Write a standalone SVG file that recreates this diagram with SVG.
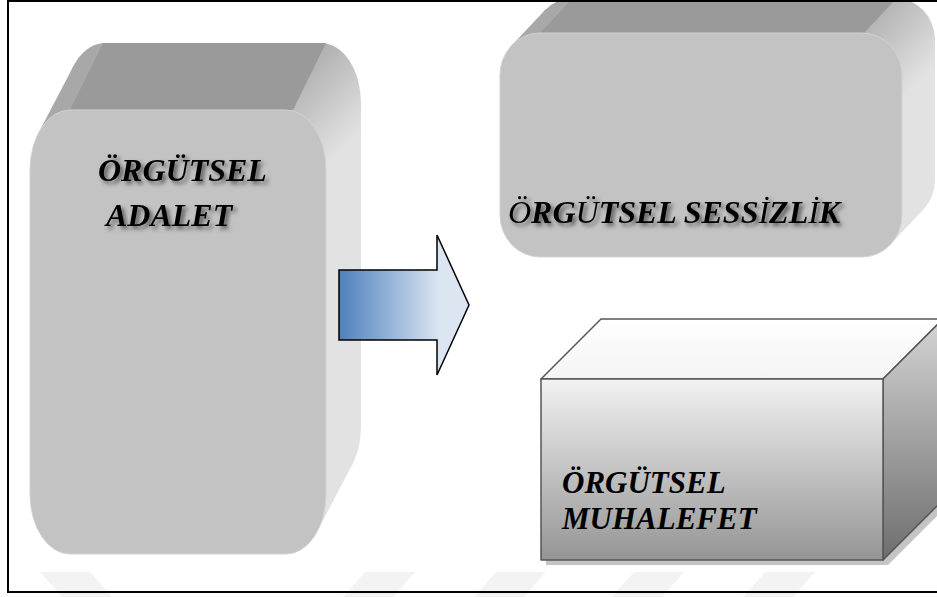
<svg xmlns="http://www.w3.org/2000/svg" width="937" height="597" viewBox="0 0 937 597">
  <style>
    .lbl { font-family: "Liberation Serif", "Times New Roman", serif; font-weight: bold; font-style: italic; font-size: 31px; fill: #000; }
    .big { font-size: 32px; }
    .thin { font-weight: normal; }
    .front { fill: #c3c3c3; stroke: #d2d2d2; stroke-width: 1; }
    .top { fill: #9a9a9a; }
    .wm { fill: #f3f3f3; }
    .edge { stroke: #555; stroke-width: 1.5; stroke-linejoin: round; }
  </style>
  <defs>
    <filter id="tshadow" x="-10%" y="-30%" width="130%" height="180%">
      <feDropShadow dx="3" dy="3" stdDeviation="2" flood-color="#000" flood-opacity="0.55"/>
    </filter>
    <linearGradient id="hullA" gradientUnits="userSpaceOnUse" x1="290" y1="60" x2="362" y2="130">
      <stop offset="0" stop-color="#a8a8a8"/>
      <stop offset="1" stop-color="#e2e2e2"/>
    </linearGradient>
    <linearGradient id="hullB" gradientUnits="userSpaceOnUse" x1="860" y1="5" x2="930" y2="70">
      <stop offset="0" stop-color="#a8a8a8"/>
      <stop offset="1" stop-color="#e2e2e2"/>
    </linearGradient>
    <linearGradient id="cubeFront" x1="0" y1="0" x2="0" y2="1">
      <stop offset="0" stop-color="#f2f2f2"/>
      <stop offset="1" stop-color="#959595"/>
    </linearGradient>
    <linearGradient id="cubeSide" x1="0" y1="0" x2="0" y2="1">
      <stop offset="0" stop-color="#d4d4d4"/>
      <stop offset="1" stop-color="#6e6e6e"/>
    </linearGradient>
    <linearGradient id="cubeTop" x1="0" y1="0" x2="0" y2="1">
      <stop offset="0" stop-color="#ffffff"/>
      <stop offset="1" stop-color="#f4f4f4"/>
    </linearGradient>
    <linearGradient id="arrowFill" gradientUnits="userSpaceOnUse" x1="340" y1="0" x2="440" y2="0">
      <stop offset="0" stop-color="#4f81bd"/>
      <stop offset="1" stop-color="#dce6f2"/>
    </linearGradient>
  </defs>

  <rect x="0" y="0" width="937" height="597" fill="#ffffff"/>

  <!-- faint background marks -->
  <g id="marks">
    <polygon class="wm" points="40,572 90,572 112,597 62,597"/>
    <polygon class="wm" points="365,572 415,572 393,597 343,597"/>
    <polygon class="wm" points="496,572 546,572 524,597 474,597"/>
    <polygon class="wm" points="634,572 684,572 662,597 612,597"/>
    <polygon class="wm" points="765,572 815,572 793,597 743,597"/>
  </g>

  <!-- frame -->
  <rect x="8" y="1" width="940" height="591" fill="none" stroke="#000" stroke-width="2"/>

  <!-- node: ORGUTSEL ADALET -->
  <g id="node-adalet">
    <rect x="65" y="43" width="296" height="444" rx="40" ry="60" fill="url(#hullA)"/>
    <polygon points="38.5,133 73.5,66 352.5,464 317.5,531" fill="url(#hullA)"/>
    <polygon class="top" points="70,110 293,110 326,43 103,43"/>
    <rect class="front" x="30" y="110" width="296" height="444" rx="40" ry="60"/>
    <g filter="url(#tshadow)">
      <text class="lbl big" x="98" y="181">ÖRGÜTSEL</text>
      <text class="lbl big" x="106" y="226">ADALET</text>
    </g>
  </g>

  <!-- node: ORGUTSEL SESSIZLIK -->
  <g id="node-sessizlik">
    <rect x="533" y="-2" width="402" height="224" rx="40" ry="42" fill="url(#hullB)"/>
    <polygon points="511.6,45.5 544.6,10.5 923.4,209.5 890.4,244.5" fill="url(#hullB)"/>
    <polygon class="top" points="540,33 864,33 897,-2 573,-2"/>
    <rect class="front" x="500" y="33" width="402" height="224" rx="40" ry="42"/>
    <g filter="url(#tshadow)">
      <text class="lbl big" x="508" y="223"><tspan class="thin">Ö</tspan>RG<tspan class="thin">Ü</tspan>TSEL SESS<tspan class="thin">İ</tspan>ZL<tspan class="thin">İ</tspan>K</text>
    </g>
  </g>

  <!-- frame top edge drawn over the top-right box -->
  <line x1="8" y1="1" x2="916" y2="1" stroke="#000" stroke-width="2"/>

  <!-- node: ORGUTSEL MUHALEFET -->
  <g id="node-muhalefet">
    <polygon points="546,384 888,384 948,324 948,505 888,565 546,565" fill="#c4c4c4"/>
    <polygon class="edge" points="541,379 883,379 943,319 601,319" fill="url(#cubeTop)"/>
    <polygon class="edge" points="883,379 943,319 943,500 883,560" fill="url(#cubeSide)"/>
    <rect class="edge" x="541" y="379" width="342" height="181" fill="url(#cubeFront)"/>
    <text class="lbl" x="562" y="493">ÖRGÜTSEL</text>
    <text class="lbl" x="562" y="529">MUHALEFET</text>
  </g>

  <!-- connectors -->
  <g id="connectors">
    <polygon points="339,270 437,270 437,235 469,305 437,375 437,340 339,340" fill="url(#arrowFill)" stroke="#000" stroke-width="1.5" stroke-linejoin="miter"/>
  </g>
</svg>
